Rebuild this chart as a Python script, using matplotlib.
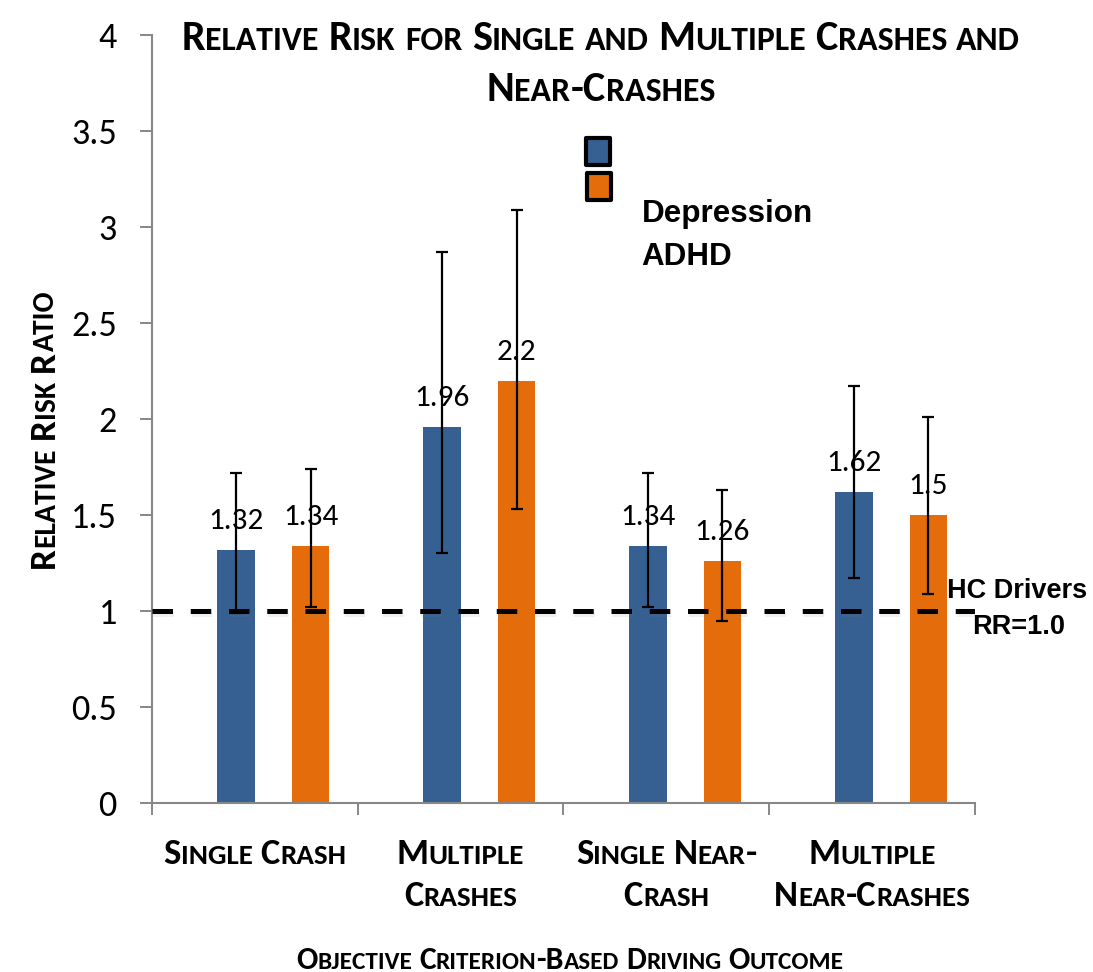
import matplotlib
matplotlib.use("Agg")
import matplotlib.pyplot as plt
import matplotlib.patheffects as pe
from matplotlib import font_manager
from matplotlib.font_manager import FontProperties
from matplotlib.patches import Rectangle
import numpy as np

# values
categories = ["Single Crash", "Multiple\nCrashes", "Single Near-\nCrash", "Multiple\nNear-Crashes"]
series = ["Depression", "ADHD"]
depression = [1.32, 1.96, 1.34, 1.62]
adhd = [1.34, 2.2, 1.26, 1.5]
depression_lo = [0.99, 1.30, 1.02, 1.17]
depression_hi = [1.72, 2.87, 1.72, 2.17]
adhd_lo = [1.02, 1.53, 0.95, 1.09]
adhd_hi = [1.74, 3.09, 1.63, 2.01]
yticks = [0, 0.5, 1, 1.5, 2, 2.5, 3, 3.5, 4]
ytick_labels = ["0", "0.5", "1", "1.5", "2", "2.5", "3", "3.5", "4"]
hc_rr = 1.0

title = "Relative Risk for Single and Multiple Crashes and\nNear-Crashes"
xlabel = "Objective Criterion-Based Driving Outcome"
ylabel = "Relative Risk Ratio"

blue = "#376092"
orange = "#E46C0A"
gray = "#878787"

names = {f.name for f in font_manager.fontManager.ttflist}
SC_FONT = "Carlito" if "Carlito" in names else "Liberation Sans"
NUM_FONT = SC_FONT

W, H = 1093, 972
fig = plt.figure(figsize=(W / 100, H / 100), dpi=100)
ax = fig.add_axes([151.7 / W, 1 - 803 / H, (975 - 151.7) / W, (803 - 35) / H])
renderer = fig.canvas.get_renderer()


############ small caps helpers (pixel coords, origin bottom-left)

def adv(s, size):
    fp = FontProperties(family=SC_FONT, weight="bold", size=size)
    w1 = renderer.get_text_width_height_descent("|" + s + "|", fp, ismath=False)[0]
    w0 = renderer.get_text_width_height_descent("||", fp, ismath=False)[0]
    return w1 - w0


def sc_runs(s):
    runs = []
    for ch in s:
        kind = "space" if ch == " " else ("small" if ch.islower() else "big")
        if runs and runs[-1][1] == kind:
            runs[-1][0] += ch.upper()
        else:
            runs.append([ch.upper(), kind])
    return runs


def sc_width(s, size, ratio=0.8):
    return sum(adv(t, size * ratio if k == "small" else size) for t, k in sc_runs(s))


def sc_fit(s, target, ratio=0.8):
    return 20 * target / sc_width(s, 20, ratio)


def sc_text(s, x, y, size, ratio=0.8, rotation=0):
    off = -sc_width(s, size, ratio) / 2
    for t, k in sc_runs(s):
        fs = size * ratio if k == "small" else size
        w = adv(t, fs)
        if k != "space":
            px, py = (x, y + off) if rotation == 90 else (x + off, y)
            fig.text(px / W, py / H, t, fontsize=fs, family=SC_FONT, weight="bold",
                     ha="left", va="baseline", rotation=rotation, rotation_mode="anchor")
        off += w


############ bars

x = np.arange(len(categories))
dep = np.array(depression)
adh = np.array(adhd)
xb = x - 0.09
xo = x + 0.273
ax.bar(xb, dep, width=0.185, color=blue, zorder=2)
ax.bar(xo, adh, width=0.18, color=orange, zorder=2)

ax.plot([-0.5, 3.5], [hc_rr, hc_rr], color="black", lw=3.6, linestyle=(0, (4.1, 3.55)),
        zorder=3,
        path_effects=[pe.SimpleLineShadow(offset=(1, -2), alpha=0.12, shadow_color="gray"), pe.Normal()])

ax.errorbar(xb, dep, yerr=[dep - np.array(depression_lo), np.array(depression_hi) - dep],
            fmt="none", ecolor="black", elinewidth=1.6, capsize=4.2, capthick=1.6, zorder=4)
ax.errorbar(xo, adh, yerr=[adh - np.array(adhd_lo), np.array(adhd_hi) - adh],
            fmt="none", ecolor="black", elinewidth=1.6, capsize=4.2, capthick=1.6, zorder=4)

for xs, vals in ((xb, depression), (xo, adhd)):
    for xi, v in zip(xs, vals):
        ax.annotate("%g" % v, (xi, v), xytext=(0, 15), textcoords="offset points",
                    ha="center", va="baseline", fontsize=22.5, family=NUM_FONT, zorder=5)

############ axes

ax.set_xlim(-0.5, 3.5)
ax.set_ylim(0, 4)
ax.set_yticks(yticks)
ax.set_yticklabels(ytick_labels, family=NUM_FONT)
ax.set_xticks(np.arange(-0.5, 4, 1))
ax.set_xticklabels([])
for s in ("top", "right"):
    ax.spines[s].set_visible(False)
for s in ("left", "bottom"):
    ax.spines[s].set_color(gray)
    ax.spines[s].set_linewidth(1.5)
ax.tick_params(axis="y", length=8.6, width=1.4, color=gray, pad=16.5, labelsize=26)
ax.tick_params(axis="x", length=8.6, width=1.4, color=gray)

############ text

fig.canvas.draw()

t_lines = title.split("\n")
t_size = sc_fit(t_lines[0], 842)
sc_text(t_lines[0], 601, H - 50, t_size)
sc_text(t_lines[1], 601, H - 101, t_size)

c_size = sc_fit("Single Crash", 184)
for i, lab in enumerate(categories):
    cx = ax.transData.transform((i, 0))[0]
    for j, line in enumerate(lab.split("\n")):
        sc_text(line, cx, H - (864 + 42 * j), c_size)

sc_text(xlabel, 570, H - 969, sc_fit(xlabel, 549))
sc_text(ylabel, 54, H - 429, sc_fit(ylabel, 278), rotation=90)

# legend (drawn as in the original slide)
for (x0, y0), col in zip([(586, 138), (587, 172.7)], [blue, orange]):
    fig.add_artist(Rectangle((x0 / W, 1 - (y0 + 27) / H), 24 / W, 27 / H, facecolor=col,
                             edgecolor="black", lw=3, joinstyle="round"))
for name, yb in zip(series, [221.7, 265]):
    fig.text(641.7 / W, 1 - yb / H, name, fontsize=22.6, family="Liberation Sans",
             weight="bold", ha="left", va="baseline")

fig.text(1017 / W, 1 - 598.3 / H, "HC Drivers", fontsize=19.5, family="Liberation Sans",
         weight="bold", ha="center", va="baseline")
fig.text(1019 / W, 1 - 634 / H, "RR=1.0", fontsize=19.5, family="Liberation Sans",
         weight="bold", ha="center", va="baseline")

fig.savefig("out.png", dpi=100)
